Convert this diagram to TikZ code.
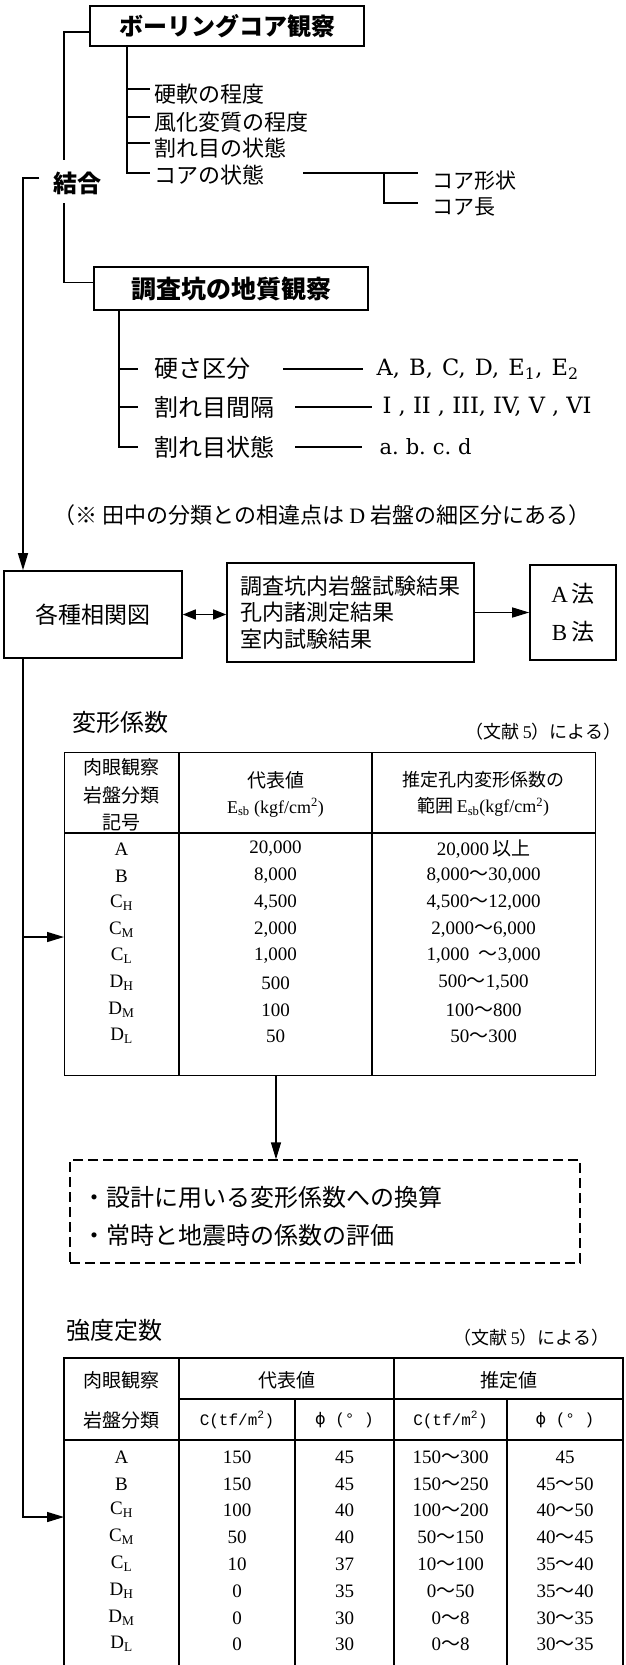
\documentclass[tikz,border=0pt]{standalone}
\usepackage{fontspec}
\setmainfont{Liberation Serif}
\newfontfamily\cjk{Noto Sans CJK JP}
\newfontfamily\dvs{DejaVu Serif}
\newfontfamily\dvsans{DejaVu Sans}
\newfontfamily\mono{Liberation Mono}
\usetikzlibrary{arrows.meta,calc}
\newcommand{\fsz}[2]{\fontsize{#1pt}{#2pt}\selectfont}
\newcommand{\tld}{{\cjk ～}}
\newcommand{\phideg}{{\dvsans ϕ}\ (°\ )}
\newcommand{\trowone}[4]{%
  \node[td] (ta#1) at (121.5,#1) {#2};
  \node[td] (tb#1) at (275.5,#1) {#3};
  \node[td] (tc#1) at (483.5,#1) {#4};}
\newcommand{\trowtwo}[6]{%
  \node[td] (ua#1) at (121.5,#1) {#2};
  \node[td] (ub#1) at (237,#1) {#3};
  \node[td] (uc#1) at (344.5,#1) {#4};
  \node[td] (ud#1) at (450.5,#1) {#5};
  \node[td] (ue#1) at (565,#1) {#6};}
\begin{document}
\begin{tikzpicture}[x=1pt, y=-1pt, line width=1.4pt,
  tip/.style={-{Triangle[length=17pt,width=10pt]}},
  dtip/.style={{Triangle[length=13pt,width=10pt]}-{Triangle[length=13pt,width=10pt]}},
  box/.style={draw, line width=1.6pt, inner sep=0pt},
  ttl/.style={font=\cjk\bfseries\fsz{24}{28}},
  itm/.style={font=\cjk\fsz{22}{26}, anchor=west, inner sep=0pt},
  itm2/.style={font=\cjk\fsz{24}{28}, anchor=west, inner sep=0pt},
  val/.style={font=\dvs\fsz{22.5}{26}, anchor=west, inner sep=0pt},
  th/.style={font=\cjk\fsz{19}{27.5}, align=center, inner sep=0pt},
  td/.style={font=\fsz{19}{22}, inner sep=0pt},
  mh/.style={font=\mono\fsz{16}{19}, inner sep=0pt},
  tline/.style={line width=1.3pt}]
\fill[white] (0,0) rectangle (626,1665);
\useasboundingbox (0,0) rectangle (626,1665);

% ---- boring core observation
\node[box, ttl, minimum width=274pt, minimum height=40pt] (b1) at (227,26) {ボーリングコア観察};
\node[itm] (i1) at (154,94) {硬軟の程度};
\node[itm] (i2) at (154,122) {風化変質の程度};
\node[itm] (i3) at (154,148) {割れ目の状態};
\node[itm] (i4) at (154,175) {コアの状態};
\node[itm, font=\cjk\fsz{21}{25}] (s1) at (432,181) {コア形状};
\node[itm, font=\cjk\fsz{21}{25}] (s2) at (432,207) {コア長};
\coordinate (tx1) at (127,0);
\draw (b1.south -| tx1) |- ($(i4.west)+(-4,-2)$);
\foreach \n in {i1,i2,i3} \draw ($(\n.west -| tx1)+(0,-5)$) -- ($(\n.west)+(-4,-5)$);
\draw ($(i4.east)+(38,-2)$) -- ($(s1.west)+(-14,-8)$);
\draw ($(s1.west)+(-48,-8)$) |- ($(s2.west)+(-14,-4)$);

% ---- ketsugo
\node[ttl, inner sep=0pt] (kg) at (77,183) {結合};
\coordinate (kx) at (64,0);
\coordinate (ox) at (23,0);
\draw ($(b1.west)+(0,6)$) -| ($(kg.north -| kx)+(0,-11)$);
\node[box, ttl, font=\cjk\bfseries\fsz{25}{30}, minimum width=274pt, minimum height=43pt] (b2) at (231,288.5) {調査坑の地質観察};
\draw ($(kg.south -| kx)+(0,8)$) |- ($(b2.west)+(0,-6)$);

% ---- test pit tree
\node[itm2] (j1) at (154,369) {硬さ区分};
\node[itm2] (j2) at (154,407) {割れ目間隔};
\node[itm2] (j3) at (154,447) {割れ目状態};
\coordinate (tx2) at (119,0);
\draw (b2.south -| tx2) |- ($(j3.west)+(-16,0)$);
\foreach \n in {j1,j2} \draw (\n.west -| tx2) -- ($(\n.west)+(-16,0)$);
\node[val] (v1) at (376,369) {A,\hspace{2pt} B,\hspace{2pt} C,\hspace{2pt} D,\hspace{2pt} E\textsubscript{1},\hspace{2pt} E\textsubscript{2}};
\node[val] (v2) at (382,407) {I , II , III, IV, V , VI};
\node[val, font=\dvs\fsz{21}{25}] (v3) at (379,447) {a.\hspace{-2pt} b.\hspace{-2pt} c.\hspace{-2pt} d};
\draw ($(v1.west)+(-93,0)$) -- ($(v1.west)+(-13,0)$);
\draw ($(v2.west)+(-87,0)$) -- ($(v2.west)+(-10,0)$);
\draw ($(v3.west)+(-84,0)$) -- ($(v3.west)+(-17,0)$);

\node[font=\cjk\fsz{22}{26}, inner sep=0pt] (note) at (322,515) {（※\ 田中の分類との相違点は\ {\rmfamily D}\ 岩盤の細区分にある）};

% ---- middle boxes
\node[box, font=\cjk\fsz{23}{27}, minimum width=178pt, minimum height=87pt] (kk) at (93,614.5) {各種相関図};
\node[box, font=\cjk\fsz{22}{26.5}, align=left, minimum width=247pt, minimum height=99pt] (rs) at (350.5,612.5) {調査坑内岩盤試験結果\\孔内諸測定結果\\室内試験結果};
\node[box, font=\fsz{23}{38}, align=center, minimum width=86pt, minimum height=95pt] (ab) at (573,612.5) {A\,{\cjk 法}\\B\,{\cjk 法}};
\draw[tip] ($(kg.west)+(-13,-5)$) -| (kk.north -| ox);
\draw[dtip] (kk.east) -- (kk.east -| rs.west);
\draw[tip] (rs.east) -- (rs.east -| ab.west);

% ---- main vertical
\coordinate (t1l) at (64,937);
\coordinate (t2l) at (64,1517);
\draw[tip] (kk.south -| ox) |- (t2l);
\draw[tip] (t1l -| ox) -- (t1l);

% ---- table 1
\node[font=\cjk\fsz{24}{28}, anchor=west, inner sep=0pt] (h1) at (72,722) {変形係数};
\node[font=\cjk\fsz{18}{22}, anchor=east, inner sep=0pt] (r1) at (622,732) {（文献\,{\rmfamily 5}）による）};
\node[draw, tline, inner sep=0pt, minimum width=531pt, minimum height=323pt, anchor=north west] (t1f) at (64,752) {};
\draw[tline] (64,833) -- (595,833);
\draw[tline] (179,752) -- (179,1075);
\draw[tline] (372,752) -- (372,1075);
\node[th] (th1) at (121.5,795) {肉眼観察\\岩盤分類\\記号};
\node[th, font=\cjk\fsz{19}{26}] (th2) at (275.5,794) {代表値\\{\rmfamily\fsz{18}{26}E\textsubscript{sb} (kgf/cm\textsuperscript{2})}};
\node[th, font=\cjk\fsz{18}{26}] (th3) at (483.5,794) {推定孔内変形係数の\\範囲\,{\rmfamily E\textsubscript{sb}(kgf/cm\textsuperscript{2})}};
\trowone{849}{A}{20,000}{20,000\,{\cjk 以上}}
\trowone{876}{B}{8,000}{8,000\tld 30,000}
\trowone{903}{C\textsubscript{H}}{4,500}{4,500\tld 12,000}
\trowone{930}{C\textsubscript{M}}{2,000}{2,000\tld 6,000}
\trowone{956}{C\textsubscript{L}}{1,000}{1,000\ \ \tld 3,000}
\trowone{983}{D\textsubscript{H}}{500}{500\tld 1,500}
\trowone{1010}{D\textsubscript{M}}{100}{100\tld 800}
\trowone{1036}{D\textsubscript{L}}{50}{50\tld 300}

% ---- dashed box
\coordinate (ax) at (276,0);
\node[draw, dash pattern=on 10pt off 5pt, minimum width=510pt, minimum height=103pt] (db) at (325,1211.5) {};
\node[font=\cjk\fsz{24}{38}, align=left, anchor=west, inner sep=0pt] (dt) at (82,1216) {・設計に用いる変形係数への換算\\・常時と地震時の係数の評価};
\draw[tip] (t1f.south -| ax) -- (db.north -| ax);

% ---- table 2
\node[font=\cjk\fsz{24}{28}, anchor=west, inner sep=0pt] (h2) at (66,1330) {強度定数};
\node[font=\cjk\fsz{18}{22}, anchor=east, inner sep=0pt] (r2) at (610,1338) {（文献\,{\rmfamily 5}）による）};
\draw[tline] (64,1665) |- (623,1358) -- (623,1665);
\draw[tline] (179,1399) -- (623,1399);
\draw[tline] (64,1440) -- (623,1440);
\draw[tline] (179,1358) -- (179,1665);
\draw[tline] (295,1399) -- (295,1665);
\draw[tline] (394,1358) -- (394,1665);
\draw[tline] (507,1399) -- (507,1665);
\node[th] (u1) at (121.5,1380) {肉眼観察};
\node[th] (u2) at (121.5,1420) {岩盤分類};
\node[th] (u3) at (286.5,1380) {代表値};
\node[th] (u4) at (508.5,1380) {推定値};
\node[mh] (u5) at (237,1420) {C(tf/m\textsuperscript{2})};
\node[mh] (u6) at (344.5,1420) {\phideg};
\node[mh] (u7) at (450.5,1420) {C(tf/m\textsuperscript{2})};
\node[mh] (u8) at (565,1420) {\phideg};
\trowtwo{1457}{A}{150}{45}{150\tld 300}{45}
\trowtwo{1484}{B}{150}{45}{150\tld 250}{45\tld 50}
\trowtwo{1510}{C\textsubscript{H}}{100}{40}{100\tld 200}{40\tld 50}
\trowtwo{1537}{C\textsubscript{M}}{50}{40}{50\tld 150}{40\tld 45}
\trowtwo{1564}{C\textsubscript{L}}{10}{37}{10\tld 100}{35\tld 40}
\trowtwo{1591}{D\textsubscript{H}}{0}{35}{0\tld 50}{35\tld 40}
\trowtwo{1618}{D\textsubscript{M}}{0}{30}{0\tld 8}{30\tld 35}
\trowtwo{1644}{D\textsubscript{L}}{0}{30}{0\tld 8}{30\tld 35}
\end{tikzpicture}
\end{document}
